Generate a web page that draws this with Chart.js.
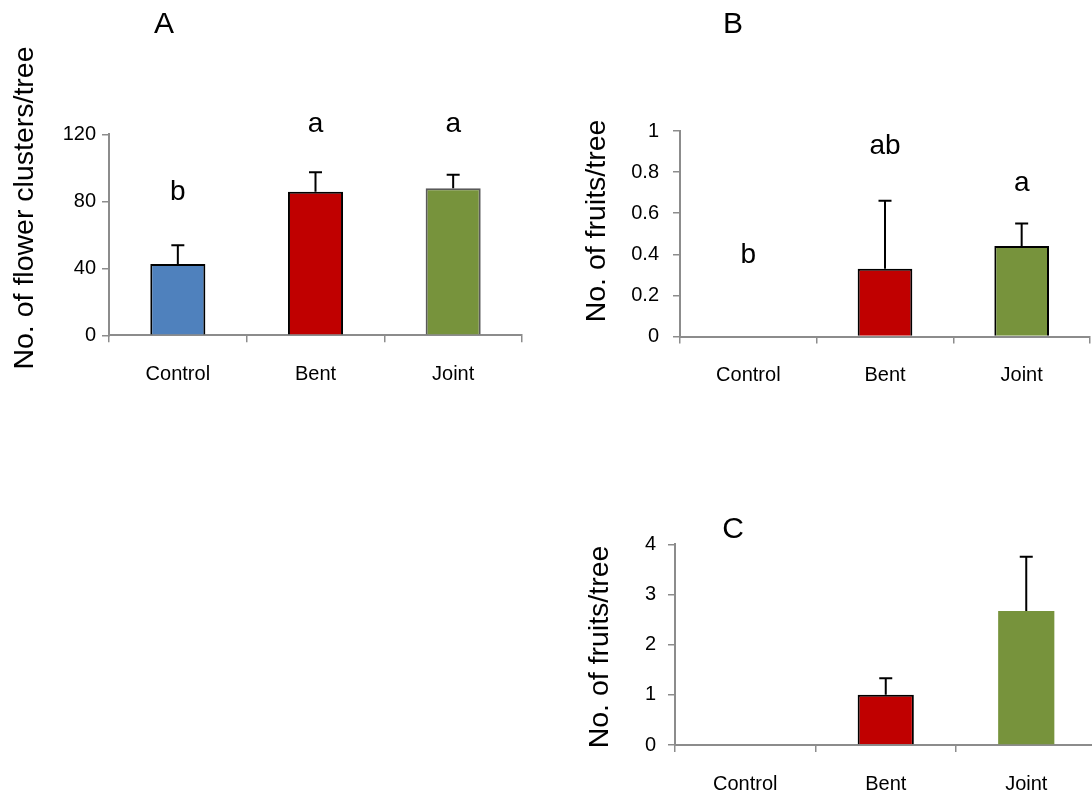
<!DOCTYPE html>
<html>
<head>
<meta charset="utf-8">
<script src="https://cdn.jsdelivr.net/npm/chart.js@4.4.1/dist/chart.umd.min.js"></script>
<style>
  html, body { margin: 0; padding: 0; background: #fff; overflow: hidden; }
  body { width: 1092px; height: 792px; position: relative; }
  canvas.panel { position: absolute; left: 0; top: 0; }
</style>
</head>
<body>
<canvas id="chartA" class="panel" width="1100" height="792"></canvas>
<canvas id="chartB" class="panel" width="1100" height="792"></canvas>
<canvas id="chartC" class="panel" width="1100" height="792"></canvas>
<script>
// Treatments
const categories = ['Control', 'Bent', 'Joint'];

// A: flower clusters per tree (mean, SE)
const flowerMeans = [42.6, 85.7, 87.8];
const flowerErrors = [11.2, 11.6, 8.0];
const flowerLetters = ['b', 'a', 'a'];

// B: fruits per tree (mean, SE)
const fruitMeansB = [0, 0.33, 0.44];
const fruitErrorsB = [0, 0.33, 0.11];
const fruitLettersB = ['b', 'ab', 'a'];

// C: fruits per tree (mean, SE)
const fruitMeansC = [0, 1.0, 2.67];
const fruitErrorsC = [0, 0.33, 1.08];

const FONT = '"Liberation Sans", Arial, Helvetica, sans-serif';
const AXIS_GREY = '#8c8c8c';
const BAR_FILL = ['#4f81bd', '#c00000', '#77933c'];

// Upward error bars plus significance letters
const errorBarPlugin = {
  id: 'errorBars',
  afterDatasetsDraw(chart, args, opts) {
    const { ctx, scales } = chart;
    const meta = chart.getDatasetMeta(0);
    const ds = chart.data.datasets[0];
    ctx.save();
    ctx.strokeStyle = '#000';
    ctx.lineWidth = 2;
    meta.data.forEach((bar, i) => {
      const err = opts.errors[i];
      if (!err) return;
      const yTop = scales.y.getPixelForValue(ds.data[i] + err);
      const yBase = scales.y.getPixelForValue(ds.data[i]);
      ctx.beginPath();
      ctx.moveTo(bar.x, yBase);
      ctx.lineTo(bar.x, yTop);
      ctx.moveTo(bar.x - 6.5, yTop);
      ctx.lineTo(bar.x + 6.5, yTop);
      ctx.stroke();
    });
    if (opts.letters) {
      ctx.fillStyle = '#000';
      ctx.font = '28px ' + FONT;
      ctx.textAlign = 'center';
      ctx.textBaseline = 'alphabetic';
      meta.data.forEach((bar, i) => {
        const y = scales.y.getPixelForValue(opts.letterAt[i]);
        ctx.fillText(opts.letters[i], bar.x, y);
      });
    }
    ctx.restore();
  }
};

// Rotated y-axis title and panel letter
const panelTextPlugin = {
  id: 'panelText',
  afterDraw(chart, args, opts) {
    const { ctx } = chart;
    ctx.save();
    ctx.fillStyle = '#000';
    ctx.textAlign = 'center';
    ctx.textBaseline = 'middle';
    ctx.font = '30px ' + FONT;
    ctx.fillText(opts.panel, opts.panelX, opts.panelY);
    ctx.translate(opts.titleX, opts.titleY);
    ctx.rotate(-Math.PI / 2);
    ctx.font = '28.5px ' + FONT;
    ctx.fillText(opts.title, 0, 0);
    ctx.restore();
  }
};

function makePanel(id, p) {
  const Y_W = 70, X_H = 60;
  const canvasW = 1100, canvasH = 792;
  new Chart(document.getElementById(id), {
    type: 'bar',
    data: {
      labels: categories,
      datasets: [{
        data: p.means,
        backgroundColor: BAR_FILL,
        borderColor: p.borders,
        borderWidth: p.borderWidth,
        borderSkipped: 'bottom',
        categoryPercentage: 1.0,
        barPercentage: 0.4
      }]
    },
    options: {
      responsive: false,
      animation: false,
      events: [],
      layout: {
        padding: {
          left: p.area.left - Y_W,
          top: p.area.top,
          right: canvasW - p.area.right,
          bottom: canvasH - p.area.bottom - X_H
        }
      },
      plugins: {
        legend: { display: false },
        tooltip: { enabled: false },
        errorBars: { errors: p.errors, letters: p.letters, letterAt: p.letterAt },
        panelText: p.text
      },
      scales: {
        x: {
          offset: true,
          afterFit(s) { s.height = X_H; },
          grid: {
            offset: true,
            drawOnChartArea: false,
            drawTicks: true,
            tickLength: 7,
            color: AXIS_GREY,
            lineWidth: 1.5
          },
          border: { display: true, color: AXIS_GREY, width: 2 },
          ticks: { color: '#000', font: { family: FONT, size: 20 }, padding: 20 }
        },
        y: {
          min: 0,
          max: p.max,
          afterFit(s) { s.width = Y_W; },
          afterBuildTicks(s) {
            s.ticks = p.ticks.map(v => ({ value: v }));
          },
          grid: {
            drawOnChartArea: false,
            drawTicks: true,
            tickLength: 7,
            color: AXIS_GREY,
            lineWidth: 1.5
          },
          border: { display: true, color: AXIS_GREY, width: 2 },
          ticks: {
            color: '#000',
            font: { family: FONT, size: 20 },
            padding: p.tickPad,
            callback: (v) => String(v)
          }
        }
      }
    },
    plugins: [errorBarPlugin, panelTextPlugin]
  });
}

makePanel('chartA', {
  means: flowerMeans,
  errors: flowerErrors,
  letters: flowerLetters,
  letterAt: [80.8, 121.5, 121.5],
  borders: ['#000', '#000', '#595959'],
  borderWidth: 2,
  max: 120,
  ticks: [0, 40, 80, 120],
  tickPad: 6,
  area: { left: 109, right: 522, top: 134.3, bottom: 335.3 },
  text: { panel: 'A', panelX: 164, panelY: 25, title: 'No. of flower clusters/tree', titleX: 25, titleY: 208 }
});

makePanel('chartB', {
  means: fruitMeansB,
  errors: fruitErrorsB,
  letters: fruitLettersB,
  letterAt: [0.356, 0.888, 0.707],
  borders: ['#8c8c8c', '#000', '#000'],
  borderWidth: 2,
  max: 1,
  ticks: [0, 0.2, 0.4, 0.6, 0.8, 1],
  tickPad: 14,
  area: { left: 680, right: 1090, top: 131, bottom: 336.5 },
  text: { panel: 'B', panelX: 733, panelY: 25, title: 'No. of fruits/tree', titleX: 597, titleY: 221 }
});

makePanel('chartC', {
  means: fruitMeansC,
  errors: fruitErrorsC,
  letters: null,
  letterAt: null,
  borders: ['#8c8c8c', '#000', 'rgba(0,0,0,0)'],
  borderWidth: [2, 2, 0],
  max: 4,
  ticks: [0, 1, 2, 3, 4],
  tickPad: 12,
  area: { left: 675, right: 1096.5, top: 544.3, bottom: 745 },
  text: { panel: 'C', panelX: 733, panelY: 530, title: 'No. of fruits/tree', titleX: 600, titleY: 647 }
});
</script>
</body>
</html>
